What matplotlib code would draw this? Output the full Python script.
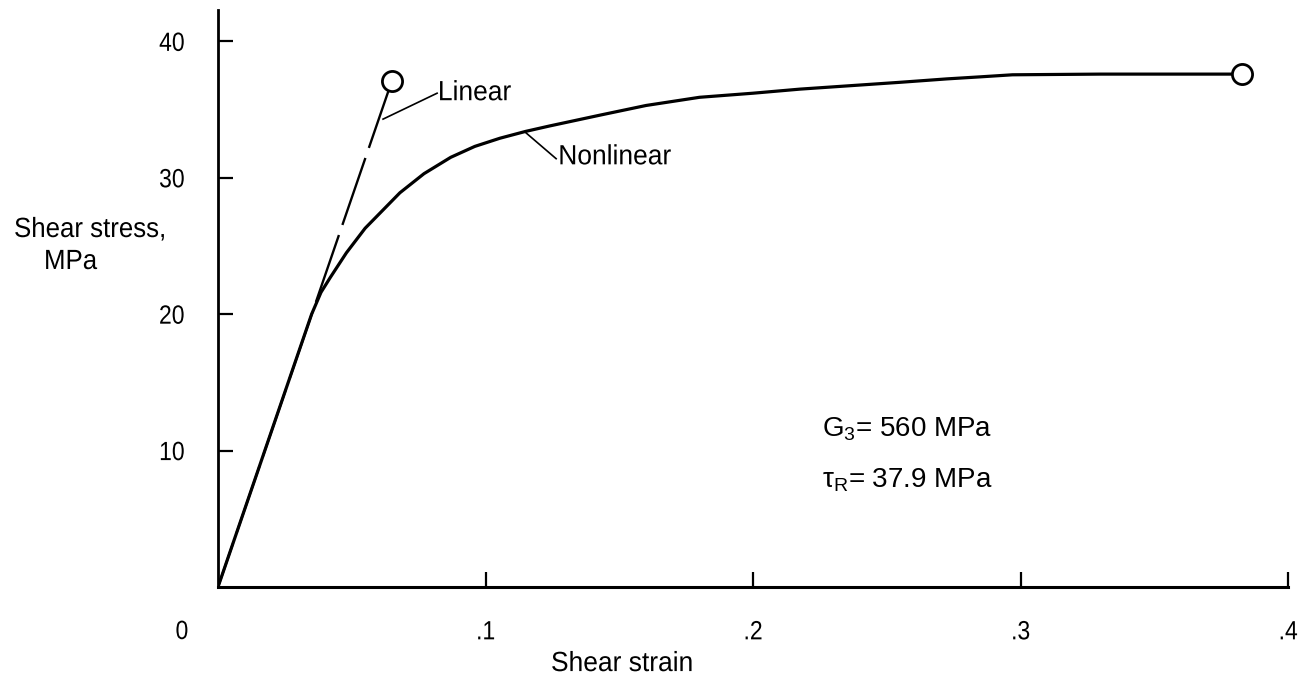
import matplotlib
matplotlib.use("Agg")
import matplotlib.pyplot as plt
from matplotlib.patheffects import AbstractPathEffect
from matplotlib.transforms import Affine2D

plt.rcParams["font.family"] = ["Liberation Sans", "DejaVu Sans"]
plt.rcParams["mathtext.fontset"] = "custom"
plt.rcParams["mathtext.rm"] = "Liberation Sans"
plt.rcParams["mathtext.it"] = "Liberation Sans"


class Condensar(AbstractPathEffect):
    # estrecha el texto en x (la letra del original es condensada)
    def __init__(self, sx=0.9, ancla="left"):
        super().__init__()
        self.sx = sx
        self.ancla = ancla

    def draw_path(self, renderer, gc, tpath, affine, rgbFace=None):
        ext = tpath.get_extents()
        if self.ancla == "center":
            x0 = (ext.x0 + ext.x1) / 2
        elif self.ancla == "right":
            x0 = ext.x1
        else:
            x0 = 0
        t = Affine2D().translate(-x0, 0).scale(self.sx, 1).translate(x0, 0) + affine
        renderer.draw_path(gc, tpath, t, rgbFace)


# curva no lineal
deformacion_nl = [0, 0.0175, 0.035, 0.0385, 0.042, 0.048, 0.055, 0.062, 0.068, 0.077,
                  0.087, 0.096, 0.1054, 0.115, 0.124, 0.143, 0.16, 0.18, 0.2,
                  0.2176, 0.255, 0.2725, 0.285, 0.297, 0.33, 0.3828]
tension_nl = [0, 10.0, 20.0, 21.6, 22.7, 24.5, 26.3, 27.7, 28.9, 30.3,
              31.5, 32.3, 32.9, 33.4, 33.8, 34.6, 35.3, 35.9, 36.2,
              36.5, 37.0, 37.25, 37.4, 37.55, 37.6, 37.6]

# recta lineal (de la rotura hacia el origen)
deformacion_lin = [0.065, 0]
tension_lin = [37.1, 0]

ticks_x = [0.1, 0.2, 0.3, 0.4]
etiquetas_x = [".1", ".2", ".3", ".4"]
ticks_y = [10, 20, 30, 40]
etiquetas_y = ["10", "20", "30", "40"]

TAM = 20
TAM_TICK = 19

fig = plt.figure(figsize=(13.09, 6.82), dpi=100)
ax = fig.add_axes([218 / 1309, 95 / 682, 1070 / 1309, 577 / 682])

ax.plot(deformacion_lin, tension_lin, color="black", lw=1.7, ls=(0, (30, 4.5)))
ax.plot(deformacion_nl, tension_nl, color="black", lw=2.3, solid_capstyle="round",
        solid_joinstyle="round")
ax.plot([deformacion_lin[0], deformacion_nl[-1]], [tension_lin[0], tension_nl[-1]], ls="none",
        marker="o", ms=14.5, mfc="white", mec="black", mew=2.0, zorder=5)

# etiquetas con lineas guia
ax.plot([0.0617, 0.0819], [34.3, 36.2], color="black", lw=1.2)
t1 = ax.text(0.0822, 36.2, "Linear", fontsize=TAM, va="center", ha="left")
ax.plot([0.1151, 0.1264], [33.3, 31.4], color="black", lw=1.2)
t2 = ax.text(0.1272, 31.5, "Nonlinear", fontsize=TAM, va="center", ha="left")
for t in (t1, t2):
    t.set_path_effects([Condensar(0.95)])

ax.text(0.2258, 11.0, "G$_3$= 560 MPa", fontsize=TAM, va="baseline", ha="left")
ax.text(0.2258, 7.3, "τ$_R$= 37.9 MPa", fontsize=TAM, va="baseline", ha="left")

ax.set_xlim(0, 0.4)
ax.set_ylim(0, 42.3)
ax.set_xticks(ticks_x)
ax.set_xticklabels(etiquetas_x)
ax.set_yticks(ticks_y)
ax.set_yticklabels(etiquetas_y)
ax.tick_params(direction="in", length=11, width=1.6, labelsize=TAM_TICK)
ax.tick_params(axis="x", pad=24)
ax.tick_params(axis="y", pad=24)
for lab in ax.get_xticklabels():
    lab.set_path_effects([Condensar(0.87, "center")])
for lab in ax.get_yticklabels():
    lab.set_path_effects([Condensar(0.87, "right")])

for lado in ["top", "right"]:
    ax.spines[lado].set_visible(False)
ax.spines["left"].set_linewidth(2.0)
ax.spines["bottom"].set_linewidth(2.2)

t0 = ax.text(-0.0135, -3.3, "0", fontsize=TAM_TICK, ha="center", va="center", clip_on=False)
t0.set_path_effects([Condensar(0.87, "center")])
tx = ax.text(0.151, -5.65, "Shear strain", fontsize=TAM, ha="center", va="center", clip_on=False)
tx.set_path_effects([Condensar(0.95, "center")])

ty1 = fig.text(166 / 1309, 1 - 237 / 682, "Shear stress,", fontsize=TAM, ha="right", va="baseline")
ty1.set_path_effects([Condensar(0.93, "right")])
ty2 = fig.text(44 / 1309, 1 - 269 / 682, "MPa", fontsize=TAM, ha="left", va="baseline")
ty2.set_path_effects([Condensar(0.93)])

fig.savefig("out.png", dpi=100)
